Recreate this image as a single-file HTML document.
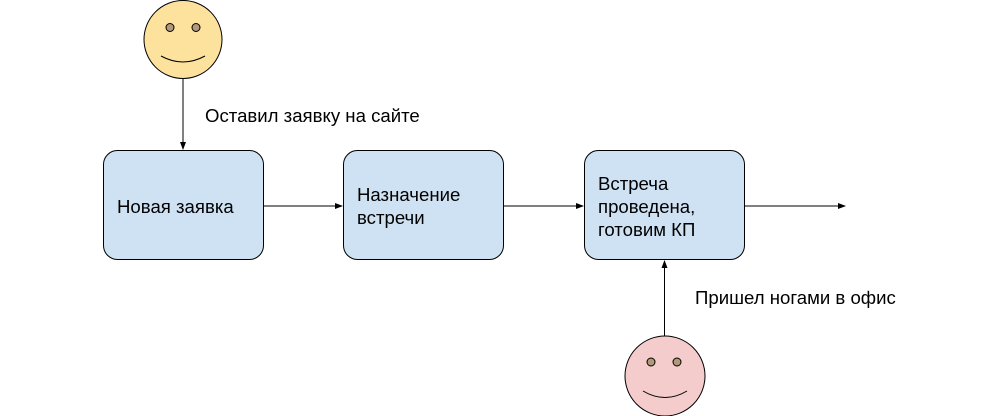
<!DOCTYPE html>
<html><head><meta charset="utf-8"><style>
body{margin:0;background:#fff;}
svg{display:block;font-family:"Liberation Sans",Arial,sans-serif;font-size:18.6px;}
</style></head><body>
<svg width="1000" height="416" viewBox="0 0 1000 416">
<defs><marker id="a" markerWidth="8" markerHeight="6" refX="7" refY="3" orient="auto" markerUnits="userSpaceOnUse"><path d="M0,0 L8,3 L0,6 Z" fill="#000"/></marker></defs>
<circle cx="183" cy="39.5" r="39" fill="#fde29d" stroke="#000" stroke-width="1"/>
<circle cx="170" cy="27.5" r="4" fill="#b09a7a" stroke="#000" stroke-width="1"/>
<circle cx="196" cy="27.5" r="4" fill="#b09a7a" stroke="#000" stroke-width="1"/>
<path d="M161,56 Q183,68 205,56" fill="none" stroke="#000" stroke-width="1"/>
<line x1="183" y1="79" x2="183" y2="149" stroke="#000" marker-end="url(#a)"/>
<text x="205" y="122">Оставил заявку на сайте</text>
<rect x="103.5" y="150.5" width="160" height="109" rx="14" fill="#cfe2f3" stroke="#000"/>
<rect x="343.5" y="150.5" width="160" height="109" rx="14" fill="#cfe2f3" stroke="#000"/>
<rect x="584.5" y="150.5" width="160" height="109" rx="14" fill="#cfe2f3" stroke="#000"/>
<text x="117" y="213">Новая заявка</text>
<text x="357" y="201">Назначение</text>
<text x="357" y="224">встречи</text>
<text x="598" y="190">Встреча</text>
<text x="598" y="213">проведена,</text>
<text x="598" y="236">готовим КП</text>
<line x1="264" y1="206" x2="342" y2="206" stroke="#000" marker-end="url(#a)"/>
<line x1="504" y1="206" x2="583" y2="206" stroke="#000" marker-end="url(#a)"/>
<line x1="745" y1="206" x2="845" y2="206" stroke="#000" marker-end="url(#a)"/>
<line x1="664.5" y1="336" x2="664.5" y2="261" stroke="#000" marker-end="url(#a)"/>
<text x="695" y="304">Пришел ногами в офис</text>
<circle cx="665" cy="376" r="40" fill="#f4cccc" stroke="#000" stroke-width="1"/>
<circle cx="651" cy="362" r="4" fill="#b09a7a" stroke="#000" stroke-width="1"/>
<circle cx="677" cy="362" r="4" fill="#b09a7a" stroke="#000" stroke-width="1"/>
<path d="M643,391 Q665,404 687,391" fill="none" stroke="#000" stroke-width="1"/>
</svg>
</body></html>
